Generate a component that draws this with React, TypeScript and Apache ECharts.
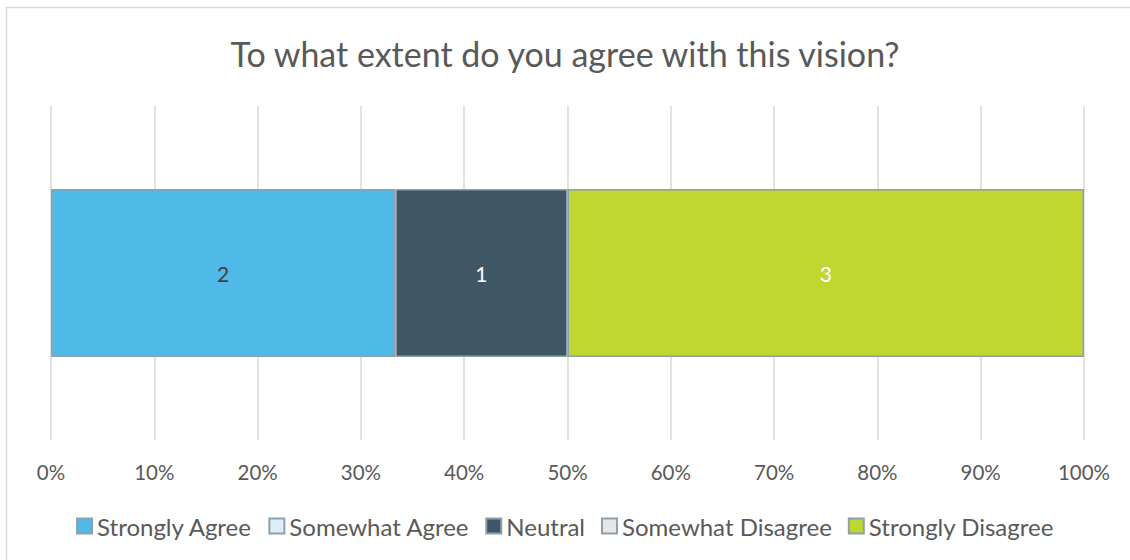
import React, { useEffect, useRef } from "react";
import * as echarts from "echarts";

const categories = ["Vision"];
const seriesNames = ["Strongly Agree", "Somewhat Agree", "Neutral", "Somewhat Disagree", "Strongly Disagree"];
const counts = [2, 0, 1, 0, 3];
const colors = ["#4FBAE8", "#DAEFF8", "#3F5665", "#E7E7E7", "#C0D631"];
const labelColors = ["#404040", "#404040", "#FFFFFF", "#404040", "#FFFFFF"];
const tickValues = [0, 10, 20, 30, 40, 50, 60, 70, 80, 90, 100];
const title = "To what extent do you agree with this vision?";

const FONT = "Lato";

export default function App() {
  const ref = useRef<HTMLDivElement>(null);
  useEffect(() => {
    if (!ref.current) return;
    const chart = echarts.init(ref.current, undefined, { renderer: "svg" });
    const total = counts.reduce((a, b) => a + b, 0);
    const series = seriesNames.map((name, i) => ({
      name,
      type: "bar",
      stack: "total",
      barWidth: 168,
      itemStyle: { color: colors[i], borderColor: "#8FA0AD", borderWidth: 1.5 },
      label: {
        show: counts[i] > 0,
        position: "inside",
        color: labelColors[i],
        fontFamily: FONT,
        fontSize: 21,
        formatter: () => String(counts[i]),
      },
      data: categories.map(() =>
        counts[i] > 0
          ? { value: (counts[i] / total) * 100 }
          : { value: 0, itemStyle: { borderWidth: 0 }, label: { show: false } }
      ),
    }));
    chart.setOption({
      animation: false,
      backgroundColor: "#FFFFFF",
      title: {
        text: title,
        left: "center",
        top: 31,
        textStyle: { color: "#595959", fontFamily: FONT, fontSize: 34, fontWeight: "normal" },
      },
      graphic: [
        {
          type: "rect",
          shape: { x: 6.5, y: 7.5, width: 1200, height: 700 },
          style: { fill: "none", stroke: "#D9D9D9", lineWidth: 1.5 },
          silent: true,
        },
      ],
      legend: {
        data: seriesNames,
        left: "center",
        top: 509,
        icon: "rect",
        itemWidth: 15,
        itemHeight: 15,
        itemGap: 16,
        textStyle: { color: "#595959", fontFamily: FONT, fontSize: 24 },
      },
      grid: { left: 51, right: 46, top: 106, bottom: 120 },
      xAxis: {
        type: "value",
        min: tickValues[0],
        max: tickValues[tickValues.length - 1],
        interval: 10,
        axisLine: { show: false },
        axisTick: { show: false },
        axisLabel: {
          color: "#595959",
          fontFamily: FONT,
          fontSize: 20.5,
          margin: 21,
          formatter: "{value}%",
        },
        splitLine: { show: true, lineStyle: { color: "#D9D9D9", width: 1.5 } },
      },
      yAxis: {
        type: "category",
        data: categories,
        show: false,
      },
      series,
    });
    return () => chart.dispose();
  }, []);
  return (
    <div
      ref={ref}
      style={{ position: "absolute", left: 0, top: 0, width: 1130, height: 560 }}
    />
  );
}
